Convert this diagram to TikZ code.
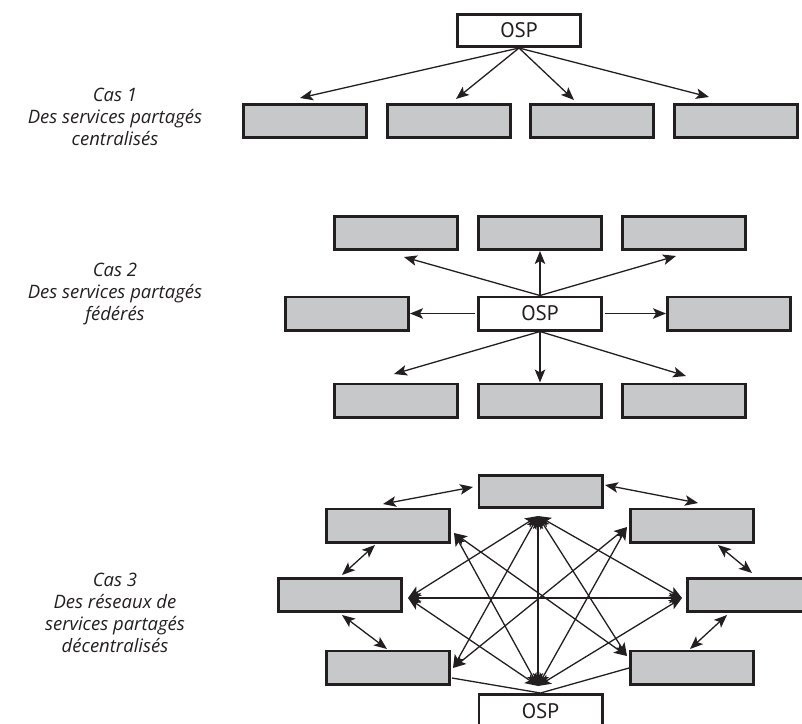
\documentclass[tikz,border=0pt]{standalone}
\usepackage{fontspec}
\setmainfont{Open Sans}
\newfontfamily\ospfont{PT Sans}
\usetikzlibrary{arrows.meta}
\definecolor{boxgray}{HTML}{C7C8CA}
\definecolor{ink}{HTML}{231F20}
\begin{document}
\begin{tikzpicture}[x=1pt,y=-1pt,
  gbox/.style={draw=ink, line width=2.8pt, fill=boxgray, minimum width=123.2pt, minimum height=33.2pt, inner sep=0pt},
  wbox/.style={gbox, fill=white, text=ink, font=\ospfont\fontsize{21}{22}\selectfont},
  arr/.style={draw=ink, line width=1.3pt, -{Stealth[length=13pt,width=10.5pt,inset=3pt]}},
  darr/.style={draw=ink, line width=1.3pt, {Stealth[length=13pt,width=10.5pt,inset=3pt]}-{Stealth[length=13pt,width=10.5pt,inset=3pt]}},
  pline/.style={draw=ink, line width=1.3pt},
  lbl/.style={align=center, text=ink, font=\itshape\fontsize{18.5}{22}\selectfont}]
\useasboundingbox (0,0) rectangle (802,723);

% ---------- Case 1 ----------
\node[lbl] (l1) at (115,117) {Cas 1\\Des services partagés\\centralisés};
\node[wbox, minimum height=32.2pt] (o1) at (519,30.5) {OSP};
\node[gbox] (c1a) at (305,121) {};
\node[gbox] (c1b) at (449,121) {};
\node[gbox] (c1c) at (592,121) {};
\node[gbox] (c1d) at (736,121) {};
\coordinate (t1a) at (300,98);
\coordinate (t1b) at (456,99);
\coordinate (t1c) at (574,100);
\coordinate (t1d) at (709,97);
\foreach \t in {t1a,t1b,t1c,t1d} \draw[arr] (o1.south) -- (\t);

% ---------- Case 2 ----------
\node[lbl] (l2) at (115,294) {Cas 2\\Des services partagés\\fédérés};
\node[wbox] (o2) at (540,313.5) {OSP};
\node[gbox] (c2t1) at (396,233) {};
\node[gbox] (c2t2) at (540,233) {};
\node[gbox] (c2t3) at (684,233) {};
\node[gbox] (c2l) at (347,313.5) {};
\node[gbox] (c2r) at (729,313.5) {};
\node[gbox] (c2b1) at (396,400.5) {};
\node[gbox] (c2b2) at (540,400.5) {};
\node[gbox] (c2b3) at (684,400.5) {};
\coordinate (t2a) at (404,257);
\coordinate (t2c) at (676,256);
\coordinate (t2d) at (394,374);
\coordinate (t2f) at (686,376);
\draw[arr] (o2.north) -- (t2a);
\draw[arr] (o2.north) -- (c2t2.south);
\draw[arr] (o2.north) -- (t2c);
\draw[arr, shorten <=2pt] (o2.west) -- (c2l.east);
\draw[arr, shorten <=2pt] (o2.east) -- (c2r.west);
\draw[arr] (o2.south) -- (t2d);
\draw[arr] (o2.south) -- (c2b2.north);
\draw[arr] (o2.south) -- (t2f);

% ---------- Case 3 ----------
\node[lbl] (l3) at (115,613) {Cas 3\\Des réseaux de\\services partagés\\décentralisés};
\node[gbox, minimum height=32.2pt] (T) at (540.5,491.5) {};
\node[gbox] (UL) at (388,525.5) {};
\node[gbox] (UR) at (692,525.5) {};
\node[gbox] (ML) at (340,595) {};
\node[gbox] (MR) at (749,595) {};
\node[gbox] (LL) at (388,667.5) {};
\node[gbox] (LR) at (692,667.5) {};
\node[wbox] (O) at (540.5,711) {OSP};

\coordinate (hT) at (538,516);
\coordinate (hML) at (408,598);
\coordinate (hMR) at (682,598);
\coordinate (hO) at (538,686);
\coordinate (pUL) at (454,533);
\coordinate (pUR) at (627,527);
\coordinate (pLL) at (453,668);
\coordinate (pLR) at (627,656);
\coordinate (qLL) at (452,678);
\coordinate (qLR) at (629,668);

\draw[darr] (hT) -- (hO);
\draw[darr] (hT) -- (hML);
\draw[darr] (hT) -- (hMR);
\draw[darr] (hT) -- (pLL);
\draw[darr] (hT) -- (pLR);
\draw[darr] (hML) -- (hMR);
\draw[darr] (hML) -- (hO);
\draw[darr] (hMR) -- (hO);
\draw[darr] (pUL) -- (hO);
\draw[darr] (pUL) -- (pLR);
\draw[darr] (pUR) -- (hO);
\draw[darr] (pUR) -- (pLL);
\draw[pline] (qLL) -- (O.north);
\draw[pline] (qLR) -- (O.north);

\coordinate (r1a) at (473,487); \coordinate (r1b) at (383,504);
\coordinate (r2a) at (605,485); \coordinate (r2b) at (698,503);
\coordinate (r3a) at (375,545); \coordinate (r3b) at (342,575);
\coordinate (r4a) at (718,545); \coordinate (r4b) at (752,573);
\coordinate (r5a) at (342,615); \coordinate (r5b) at (387,649);
\coordinate (r6a) at (727,615); \coordinate (r6b) at (690,649);
\foreach \i in {1,...,6} \draw[darr] (r\i a) -- (r\i b);
\end{tikzpicture}
\end{document}
